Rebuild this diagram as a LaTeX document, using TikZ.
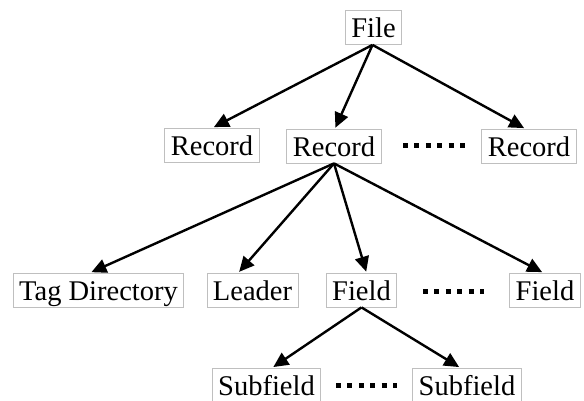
\documentclass[tikz,border=0pt]{standalone}
\usepackage{fontspec}
\setmainfont{Liberation Serif}
\usetikzlibrary{arrows.meta}
\begin{document}
\begin{tikzpicture}[x=1pt,y=-1pt,
  box/.style={draw=black!25, line width=0.8pt, inner xsep=6pt, inner ysep=2pt,
    text height=25pt, text depth=5pt, font=\fontsize{28.5}{31}\selectfont},
  link/.style={line width=2.4pt, -{Triangle[length=15pt,width=14pt]}, shorten >=1pt},
  dotrow/.style={line width=5pt, dash pattern=on 5pt off 6.4pt}]
  \useasboundingbox (0,0) rectangle (584,400);

  % top level
  \node[box] (file) at (373.5,27.5) {File};

  % records
  \node[box] (rec1) at (212,145) {Record};
  \node[box] (rec2) at (334,146) {Record};
  \node[box] (rec3) at (529,146) {Record};
  \coordinate (d1a) at (403,145);
  \coordinate (d1b) at (465,145);

  % parts of a record
  \node[box] (tagdir) at (98.5,290) {Tag Directory};
  \node[box] (leader) at (252.5,290) {Leader};
  \node[box] (field1) at (361.5,290) {Field};
  \node[box] (field2) at (545,290) {Field};
  \coordinate (d2a) at (423,291);
  \coordinate (d2b) at (484,291);

  % subfields
  \node[box] (sub1) at (266.5,385) {Subfield};
  \node[box] (sub2) at (467,385) {Subfield};
  \coordinate (d3a) at (336,385);
  \coordinate (d3b) at (397,385);

  % ellipsis rows
  \draw[dotrow] (d1a) -- (d1b);
  \draw[dotrow] (d2a) -- (d2b);
  \draw[dotrow] (d3a) -- (d3b);

  % connectors
  \coordinate (fileout) at ([xshift=-1pt]file.south);
  \draw[link] (fileout) -- ([xshift=1pt]rec1.north);
  \draw[link] (fileout) -- ([xshift=1pt]rec2.north);
  \draw[link] (fileout) -- ([xshift=-4pt]rec3.north);

  \coordinate (recout) at (rec2.south);
  \draw[link] (recout) -- ([xshift=-8pt]tagdir.north);
  \draw[link] (recout) -- ([xshift=-14pt]leader.north);
  \draw[link] (recout) -- ([xshift=5pt]field1.north);
  \draw[link] (recout) -- ([xshift=-2pt]field2.north);

  \coordinate (fieldout) at (field1.south);
  \draw[link] (fieldout) -- ([xshift=6pt]sub1.north);
  \draw[link] (fieldout) -- ([xshift=-7pt]sub2.north);
\end{tikzpicture}
\end{document}
